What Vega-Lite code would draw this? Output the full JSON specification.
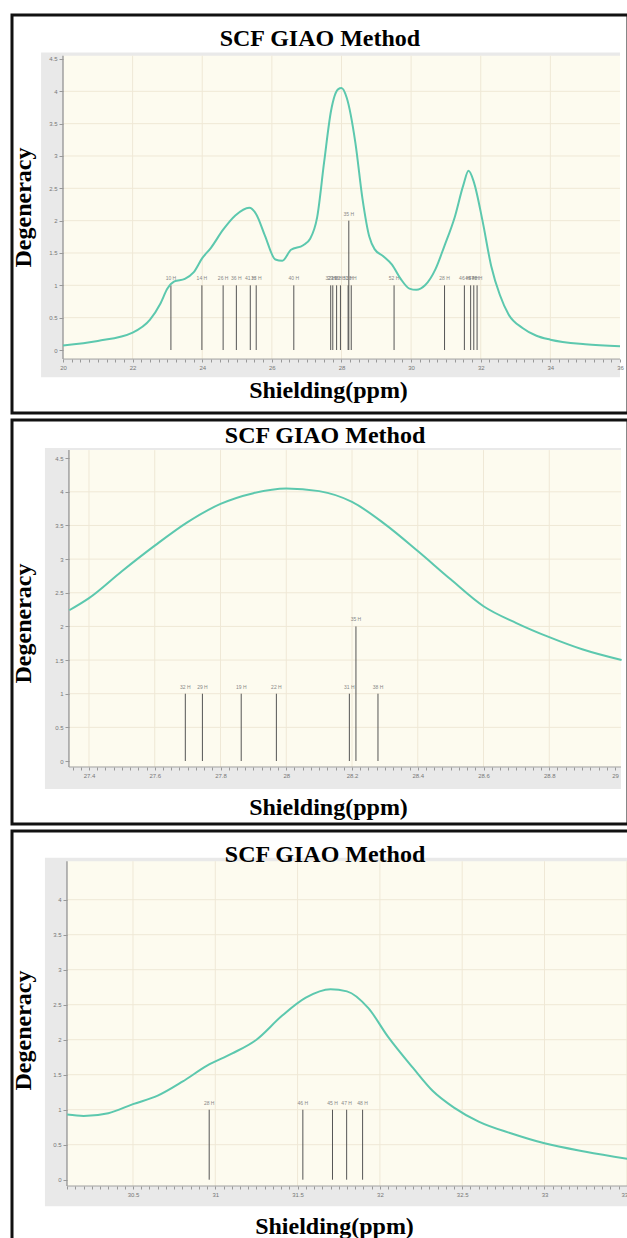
{
  "$schema": "https://vega.github.io/schema/vega-lite/v6.json",
  "padding": {"left": 9, "top": 13, "right": 0, "bottom": 0},
  "background": "white",
  "spacing": 3,
  "config": {
    "view": {"stroke": "#111", "strokeWidth": 3, "fill": "white"},
    "axis": {
      "domain": false, "grid": false, "tickCount": 1000,
      "labelFont": "Liberation Sans", "labelFontSize": 6, "labelColor": "#777",
      "tickColor": "#999", "tickSize": 3, "labelPadding": 2,
      "labelFlush": false, "labelOverlap": false,
      "titleFont": "Liberation Serif", "titleFontSize": 24, "titleFontWeight": "bold",
      "titleColor": "#000", "titleBaseline": "middle", "titleAlign": "center"
    },
    "axisY": {"titleAngle": -90, "tickSize": 4}
  },
  "datasets": {
    "one": [{}],
    "gridh": [{"g": 0.5}, {"g": 1}, {"g": 1.5}, {"g": 2}, {"g": 2.5}, {"g": 3}, {"g": 3.5}, {"g": 4}],
    "gridv1": [{"g": 22}, {"g": 24}, {"g": 26}, {"g": 28}, {"g": 30}, {"g": 32}, {"g": 34}],
    "gridv2": [{"g": 27.4}, {"g": 27.6}, {"g": 27.8}, {"g": 28}, {"g": 28.2}, {"g": 28.4}, {"g": 28.6}, {"g": 28.8}],
    "gridv3": [{"g": 30.5}, {"g": 31}, {"g": 31.5}, {"g": 32}, {"g": 32.5}, {"g": 33}, {"g": 33.5}],
    "curve1": [
      {"x": 20.0, "y": 0.07}, {"x": 21.0, "y": 0.14}, {"x": 22.0, "y": 0.27}, {"x": 22.5, "y": 0.47},
      {"x": 22.8, "y": 0.72}, {"x": 23.0, "y": 0.95}, {"x": 23.2, "y": 1.06}, {"x": 23.5, "y": 1.1},
      {"x": 23.75, "y": 1.2}, {"x": 24.0, "y": 1.42}, {"x": 24.25, "y": 1.58}, {"x": 24.6, "y": 1.86},
      {"x": 24.95, "y": 2.08}, {"x": 25.35, "y": 2.2}, {"x": 25.55, "y": 2.1}, {"x": 25.8, "y": 1.77},
      {"x": 26.1, "y": 1.4}, {"x": 26.3, "y": 1.38}, {"x": 26.55, "y": 1.55}, {"x": 26.9, "y": 1.62},
      {"x": 27.1, "y": 1.72}, {"x": 27.3, "y": 2.05}, {"x": 27.5, "y": 2.9}, {"x": 27.7, "y": 3.7},
      {"x": 27.9, "y": 4.03}, {"x": 28.0, "y": 4.05}, {"x": 28.15, "y": 3.9}, {"x": 28.4, "y": 3.2},
      {"x": 28.6, "y": 2.35}, {"x": 28.8, "y": 1.75}, {"x": 28.95, "y": 1.56}, {"x": 29.2, "y": 1.45},
      {"x": 29.45, "y": 1.32}, {"x": 29.7, "y": 1.1}, {"x": 29.95, "y": 0.95}, {"x": 30.15, "y": 0.93},
      {"x": 30.4, "y": 1.0}, {"x": 30.7, "y": 1.25}, {"x": 30.95, "y": 1.6}, {"x": 31.25, "y": 2.05},
      {"x": 31.5, "y": 2.55}, {"x": 31.65, "y": 2.77}, {"x": 31.8, "y": 2.6}, {"x": 32.05, "y": 2.0},
      {"x": 32.3, "y": 1.3}, {"x": 32.55, "y": 0.85}, {"x": 32.8, "y": 0.55}, {"x": 33.2, "y": 0.34},
      {"x": 33.6, "y": 0.22}, {"x": 34.0, "y": 0.16}, {"x": 35.0, "y": 0.09}, {"x": 36.0, "y": 0.06}
    ],
    "sticks1": [
      {"x": 23.10, "y": 1, "lab": "10 H"}, {"x": 23.99, "y": 1, "lab": "14 H"}, {"x": 24.60, "y": 1, "lab": "26 H"},
      {"x": 24.98, "y": 1, "lab": "36 H"}, {"x": 25.38, "y": 1, "lab": "41 H"}, {"x": 25.55, "y": 1, "lab": "33 H"},
      {"x": 26.63, "y": 1, "lab": "40 H"}, {"x": 27.69, "y": 1, "lab": "32 H"}, {"x": 27.75, "y": 1, "lab": "29 H"},
      {"x": 27.86, "y": 1, "lab": "19 H"}, {"x": 27.97, "y": 1, "lab": "22 H"}, {"x": 28.19, "y": 1, "lab": "31 H"},
      {"x": 28.21, "y": 2, "lab": "35 H"}, {"x": 28.28, "y": 1, "lab": "38 H"}, {"x": 29.51, "y": 1, "lab": "52 H"},
      {"x": 30.96, "y": 1, "lab": "28 H"}, {"x": 31.53, "y": 1, "lab": "46 H"}, {"x": 31.71, "y": 1, "lab": "45 H"},
      {"x": 31.80, "y": 1, "lab": "47 H"}, {"x": 31.895, "y": 1, "lab": "48 H"}
    ],
    "curve2": [
      {"x": 27.34, "y": 2.24}, {"x": 27.4, "y": 2.42}, {"x": 27.5, "y": 2.82}, {"x": 27.6, "y": 3.2},
      {"x": 27.7, "y": 3.55}, {"x": 27.8, "y": 3.82}, {"x": 27.9, "y": 3.98}, {"x": 28.0, "y": 4.05},
      {"x": 28.1, "y": 4.01}, {"x": 28.2, "y": 3.85}, {"x": 28.3, "y": 3.52}, {"x": 28.4, "y": 3.12},
      {"x": 28.5, "y": 2.7}, {"x": 28.6, "y": 2.3}, {"x": 28.7, "y": 2.05}, {"x": 28.8, "y": 1.84},
      {"x": 28.9, "y": 1.66}, {"x": 29.02, "y": 1.5}
    ],
    "sticks2": [
      {"x": 27.693, "y": 1, "lab": "32 H"}, {"x": 27.745, "y": 1, "lab": "29 H"}, {"x": 27.863, "y": 1, "lab": "19 H"},
      {"x": 27.970, "y": 1, "lab": "22 H"}, {"x": 28.192, "y": 1, "lab": "31 H"}, {"x": 28.212, "y": 2, "lab": "35 H"},
      {"x": 28.279, "y": 1, "lab": "38 H"}
    ],
    "curve3": [
      {"x": 30.1, "y": 0.93}, {"x": 30.2, "y": 0.91}, {"x": 30.35, "y": 0.95}, {"x": 30.5, "y": 1.08},
      {"x": 30.65, "y": 1.2}, {"x": 30.8, "y": 1.4}, {"x": 30.95, "y": 1.63}, {"x": 31.1, "y": 1.8},
      {"x": 31.25, "y": 2.0}, {"x": 31.4, "y": 2.33}, {"x": 31.55, "y": 2.6}, {"x": 31.7, "y": 2.72},
      {"x": 31.8, "y": 2.69}, {"x": 31.93, "y": 2.45}, {"x": 32.05, "y": 2.04}, {"x": 32.2, "y": 1.6},
      {"x": 32.32, "y": 1.27}, {"x": 32.45, "y": 1.03}, {"x": 32.6, "y": 0.83}, {"x": 32.8, "y": 0.66},
      {"x": 33.0, "y": 0.52}, {"x": 33.25, "y": 0.4}, {"x": 33.53, "y": 0.29}
    ],
    "sticks3": [
      {"x": 30.963, "y": 1, "lab": "28 H"}, {"x": 31.532, "y": 1, "lab": "46 H"}, {"x": 31.712, "y": 1, "lab": "45 H"},
      {"x": 31.798, "y": 1, "lab": "47 H"}, {"x": 31.895, "y": 1, "lab": "48 H"}
    ]
  },
  "vconcat": [
    {
      "width": 616, "height": 398,
      "layer": [
        {"data": {"name": "one"}, "mark": {"type": "rect", "color": "#e9e9e9"},
         "encoding": {
           "x": {"datum": 19.37, "type": "quantitative",
                 "scale": {"domain": [18.535, 36.23], "nice": false, "zero": false},
                 "axis": {"values": [20,20.25,20.5,20.75,21,21.25,21.5,21.75,22,22.25,22.5,22.75,23,23.25,23.5,23.75,24,24.25,24.5,24.75,25,25.25,25.5,25.75,26,26.25,26.5,26.75,27,27.25,27.5,27.75,28,28.25,28.5,28.75,29,29.25,29.5,29.75,30,30.25,30.5,30.75,31,31.25,31.5,31.75,32,32.25,32.5,32.75,33,33.25,33.5,33.75,34,34.25,34.5,34.75,35,35.25,35.5,35.75,36],
                          "labelExpr": "datum.value % 2 == 0 ? format(datum.value, '~g') : ''",
                          "zindex": 2, "offset": -54, "title": "Shielding(ppm)", "titleX": 316, "titleY": 31}},
           "x2": {"datum": 36},
           "y": {"datum": -0.42, "type": "quantitative",
                 "scale": {"domain": [-0.974, 5.18], "nice": false, "zero": false},
                 "axis": {"values": [0,0.5,1,1.5,2,2.5,3,3.5,4,4.5], "format": "~g",
                          "zindex": 2, "offset": -51, "title": "Degeneracy", "titleX": -40, "titleY": 192}},
           "y2": {"datum": 4.6}}},
        {"data": {"name": "one"}, "mark": {"type": "rect", "color": "#fdfbef"},
         "encoding": {"x": {"datum": 20}, "x2": {"datum": 36}, "y": {"datum": -0.14}, "y2": {"datum": 4.55}}},
        {"data": {"name": "gridv1"}, "mark": {"type": "rule", "color": "#efe8d6", "strokeWidth": 1},
         "encoding": {"x": {"field": "g", "type": "quantitative"}, "y": {"datum": -0.14}, "y2": {"datum": 4.55}}},
        {"data": {"name": "gridh"}, "mark": {"type": "rule", "color": "#efe8d6", "strokeWidth": 1},
         "encoding": {"y": {"field": "g", "type": "quantitative"}, "x": {"datum": 20}, "x2": {"datum": 36}}},
        {"data": {"name": "one"}, "mark": {"type": "rule", "color": "#a0a0a0", "strokeWidth": 1.5},
         "encoding": {"x": {"datum": 20}, "y": {"datum": -0.14}, "y2": {"datum": 4.55}}},
        {"data": {"name": "one"}, "mark": {"type": "rule", "color": "#a0a0a0", "strokeWidth": 1},
         "encoding": {"y": {"datum": -0.14}, "x": {"datum": 20}, "x2": {"datum": 36}}},
        {"data": {"name": "sticks1"}, "mark": {"type": "rule", "color": "#555", "strokeWidth": 1},
         "encoding": {"x": {"field": "x", "type": "quantitative"}, "y": {"field": "y", "type": "quantitative"}, "y2": {"datum": 0}}},
        {"data": {"name": "sticks1"}, "mark": {"type": "text", "fontSize": 5, "color": "#888", "dy": -7, "font": "Liberation Sans"},
         "encoding": {"x": {"field": "x", "type": "quantitative"}, "y": {"field": "y", "type": "quantitative"}, "text": {"field": "lab"}}},
        {"data": {"name": "curve1"}, "mark": {"type": "line", "color": "#5cc8ae", "strokeWidth": 2, "interpolate": "monotone"},
         "encoding": {"x": {"field": "x", "type": "quantitative"}, "y": {"field": "y", "type": "quantitative"}}},
        {"data": {"name": "one"}, "mark": {"type": "text", "text": "SCF GIAO Method", "font": "Liberation Serif", "fontSize": 24, "fontWeight": "bold", "color": "#000", "baseline": "middle", "align": "center"},
         "encoding": {"x": {"datum": 27.38}, "y": {"datum": 4.81}}}
      ]
    },
    {
      "width": 616, "height": 404,
      "layer": [
        {"data": {"name": "one"}, "mark": {"type": "rect", "color": "#e9e9e9"},
         "encoding": {
           "x": {"datum": 27.266, "type": "quantitative",
                 "scale": {"domain": [27.1658, 29.0395], "nice": false, "zero": false},
                 "axis": {"values": [27.35,27.375,27.4,27.425,27.45,27.475,27.5,27.525,27.55,27.575,27.6,27.625,27.65,27.675,27.7,27.725,27.75,27.775,27.8,27.825,27.85,27.875,27.9,27.925,27.95,27.975,28,28.025,28.05,28.075,28.1,28.125,28.15,28.175,28.2,28.225,28.25,28.275,28.3,28.325,28.35,28.375,28.4,28.425,28.45,28.475,28.5,28.525,28.55,28.575,28.6,28.625,28.65,28.675,28.7,28.725,28.75,28.775,28.8,28.825,28.85,28.875,28.9,28.925,28.95,28.975,29],
                          "labelExpr": "abs(datum.value*5 - round(datum.value*5)) < 0.001 ? format(datum.value, '~g') : ''",
                          "zindex": 2, "offset": -57, "title": "Shielding(ppm)", "titleX": 316, "titleY": 40}},
           "x2": {"datum": 29.018},
           "y": {"datum": -0.416, "type": "quantitative",
                 "scale": {"domain": [-0.936, 5.067], "nice": false, "zero": false},
                 "axis": {"values": [0,0.5,1,1.5,2,2.5,3,3.5,4,4.5], "format": "~g",
                          "zindex": 2, "offset": -57, "title": "Degeneracy", "titleX": -46, "titleY": 203}},
           "y2": {"datum": 4.65}}},
        {"data": {"name": "one"}, "mark": {"type": "rect", "color": "#fdfbef"},
         "encoding": {"x": {"datum": 27.339}, "x2": {"datum": 29.018}, "y": {"datum": -0.089}, "y2": {"datum": 4.62}}},
        {"data": {"name": "gridv2"}, "mark": {"type": "rule", "color": "#efe8d6", "strokeWidth": 1},
         "encoding": {"x": {"field": "g", "type": "quantitative"}, "y": {"datum": -0.089}, "y2": {"datum": 4.62}}},
        {"data": {"name": "gridh"}, "mark": {"type": "rule", "color": "#efe8d6", "strokeWidth": 1},
         "encoding": {"y": {"field": "g", "type": "quantitative"}, "x": {"datum": 27.339}, "x2": {"datum": 29.018}}},
        {"data": {"name": "one"}, "mark": {"type": "rule", "color": "#a0a0a0", "strokeWidth": 1.5},
         "encoding": {"x": {"datum": 27.339}, "y": {"datum": -0.089}, "y2": {"datum": 4.62}}},
        {"data": {"name": "one"}, "mark": {"type": "rule", "color": "#a0a0a0", "strokeWidth": 1},
         "encoding": {"y": {"datum": -0.089}, "x": {"datum": 27.339}, "x2": {"datum": 29.018}}},
        {"data": {"name": "sticks2"}, "mark": {"type": "rule", "color": "#555", "strokeWidth": 1},
         "encoding": {"x": {"field": "x", "type": "quantitative"}, "y": {"field": "y", "type": "quantitative"}, "y2": {"datum": 0}}},
        {"data": {"name": "sticks2"}, "mark": {"type": "text", "fontSize": 5, "color": "#888", "dy": -7, "font": "Liberation Sans"},
         "encoding": {"x": {"field": "x", "type": "quantitative"}, "y": {"field": "y", "type": "quantitative"}, "text": {"field": "lab"}}},
        {"data": {"name": "curve2"}, "mark": {"type": "line", "color": "#5cc8ae", "strokeWidth": 2, "interpolate": "monotone"},
         "encoding": {"x": {"field": "x", "type": "quantitative"}, "y": {"field": "y", "type": "quantitative"}}},
        {"data": {"name": "one"}, "mark": {"type": "text", "text": "SCF GIAO Method", "font": "Liberation Serif", "fontSize": 24, "fontWeight": "bold", "color": "#000", "baseline": "middle", "align": "center"},
         "encoding": {"x": {"datum": 28.118}, "y": {"datum": 4.83}}}
      ]
    },
    {
      "width": 620, "height": 412,
      "layer": [
        {"data": {"name": "one"}, "mark": {"type": "rect", "color": "#e9e9e9"},
         "encoding": {
           "x": {"datum": 29.965, "type": "quantitative",
                 "scale": {"domain": [29.765, 33.5316], "nice": false, "zero": false},
                 "axis": {"values": [30.1,30.15,30.2,30.25,30.3,30.35,30.4,30.45,30.5,30.55,30.6,30.65,30.7,30.75,30.8,30.85,30.9,30.95,31,31.05,31.1,31.15,31.2,31.25,31.3,31.35,31.4,31.45,31.5,31.55,31.6,31.65,31.7,31.75,31.8,31.85,31.9,31.95,32,32.05,32.1,32.15,32.2,32.25,32.3,32.35,32.4,32.45,32.5,32.55,32.6,32.65,32.7,32.75,32.8,32.85,32.9,32.95,33,33.05,33.1,33.15,33.2,33.25,33.3,33.35,33.4,33.45,33.5],
                          "labelExpr": "abs(datum.value*2 - round(datum.value*2)) < 0.001 ? format(datum.value, '~g') : ''",
                          "zindex": 2, "offset": -57, "title": "Shielding(ppm)", "titleX": 322, "titleY": 40}},
           "x2": {"datum": 33.53},
           "y": {"datum": -0.378, "type": "quantitative",
                 "scale": {"domain": [-0.904, 4.981], "nice": false, "zero": false},
                 "axis": {"values": [0,0.5,1,1.5,2,2.5,3,3.5,4], "format": "~g",
                          "zindex": 2, "offset": -55, "title": "Degeneracy", "titleX": -44, "titleY": 199}},
           "y2": {"datum": 4.6}}},
        {"data": {"name": "one"}, "mark": {"type": "rect", "color": "#fdfbef"},
         "encoding": {"x": {"datum": 30.099}, "x2": {"datum": 33.53}, "y": {"datum": -0.09}, "y2": {"datum": 4.55}}},
        {"data": {"name": "gridv3"}, "mark": {"type": "rule", "color": "#efe8d6", "strokeWidth": 1},
         "encoding": {"x": {"field": "g", "type": "quantitative"}, "y": {"datum": -0.09}, "y2": {"datum": 4.55}}},
        {"data": {"name": "gridh"}, "mark": {"type": "rule", "color": "#efe8d6", "strokeWidth": 1},
         "encoding": {"y": {"field": "g", "type": "quantitative"}, "x": {"datum": 30.099}, "x2": {"datum": 33.53}}},
        {"data": {"name": "one"}, "mark": {"type": "rule", "color": "#a0a0a0", "strokeWidth": 1.5},
         "encoding": {"x": {"datum": 30.099}, "y": {"datum": -0.09}, "y2": {"datum": 4.55}}},
        {"data": {"name": "one"}, "mark": {"type": "rule", "color": "#a0a0a0", "strokeWidth": 1},
         "encoding": {"y": {"datum": -0.09}, "x": {"datum": 30.099}, "x2": {"datum": 33.53}}},
        {"data": {"name": "sticks3"}, "mark": {"type": "rule", "color": "#555", "strokeWidth": 1},
         "encoding": {"x": {"field": "x", "type": "quantitative"}, "y": {"field": "y", "type": "quantitative"}, "y2": {"datum": 0}}},
        {"data": {"name": "sticks3"}, "mark": {"type": "text", "fontSize": 5, "color": "#888", "dy": -7, "font": "Liberation Sans"},
         "encoding": {"x": {"field": "x", "type": "quantitative"}, "y": {"field": "y", "type": "quantitative"}, "text": {"field": "lab"}}},
        {"data": {"name": "curve3"}, "mark": {"type": "line", "color": "#5cc8ae", "strokeWidth": 2, "interpolate": "monotone"},
         "encoding": {"x": {"field": "x", "type": "quantitative"}, "y": {"field": "y", "type": "quantitative"}}},
        {"data": {"name": "one"}, "mark": {"type": "text", "text": "SCF GIAO Method", "font": "Liberation Serif", "fontSize": 24, "fontWeight": "bold", "color": "#000", "baseline": "middle", "align": "center"},
         "encoding": {"x": {"datum": 31.667}, "y": {"datum": 4.64}}}
      ]
    }
  ]
}
